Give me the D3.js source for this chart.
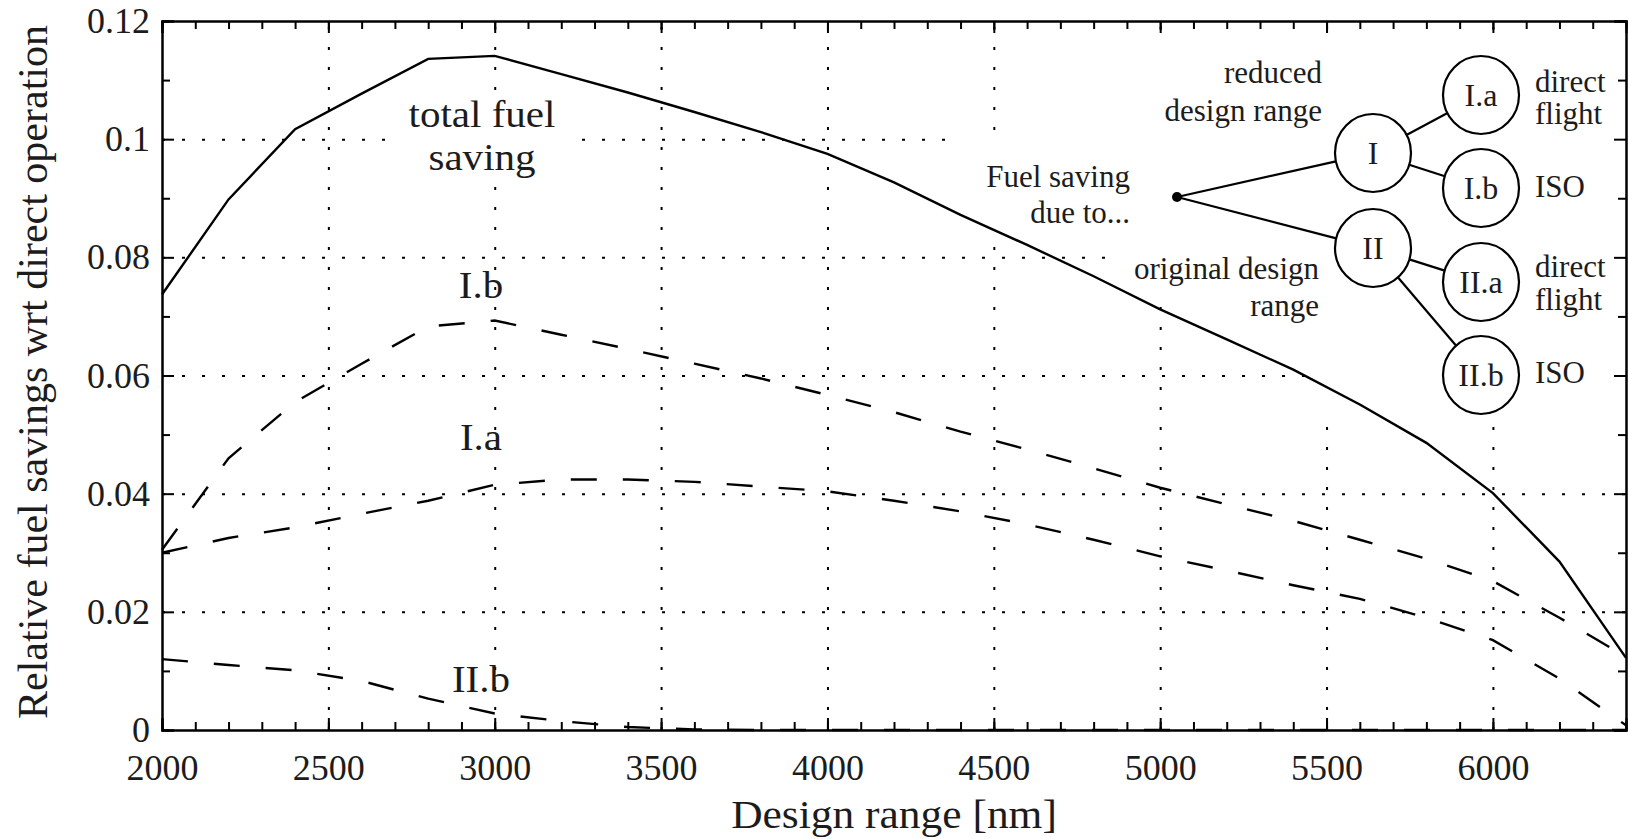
<!DOCTYPE html>
<html>
<head>
<meta charset="utf-8">
<title>Relative fuel savings</title>
<script src="https://cdn.jsdelivr.net/npm/d3@7/dist/d3.min.js"></script>
<style>
	body { margin: 0; background: #fff; }
	svg text { font-family: "Liberation Serif", "Times New Roman", serif; fill: #1c1c1c; }
	.axis path, .axis line { stroke: #000; stroke-width: 2; }
	.grid line { stroke: #000; stroke-width: 2; stroke-dasharray: 3, 17; }
	.grid path { display: none; }
	.curve { fill: none; stroke: #000; stroke-width: 2.4; }
	.curve-dashed { stroke-dasharray: 26, 26; }
	.tree line, .tree ellipse { stroke: #000; stroke-width: 2.2; fill: #fff; }
</style>
</head>
<body>
<div id="chart-area"></div>
<script>

// Design range [nm], one point every 200 nm
let designRange = [2000, 2200, 2400, 2600, 2800, 3000, 3200, 3400, 3600, 3800, 4000, 4200,
	4400, 4600, 4800, 5000, 5200, 5400, 5600, 5800, 6000, 6200, 6400];

// Relative fuel savings wrt direct operation
let totalSaving = [0.0737, 0.0898, 0.1017, 0.1077, 0.1136, 0.1141, 0.1110, 0.1079, 0.1046, 0.1012, 0.0975, 0.0927,
	0.0872, 0.0821, 0.0768, 0.0712, 0.0661, 0.0610, 0.0551, 0.0486, 0.0401, 0.0285, 0.0122];
let savingIa = [0.0300, 0.0325, 0.0343, 0.0366, 0.0388, 0.0415, 0.0424, 0.0424, 0.0420, 0.0412, 0.0404, 0.0388,
	0.0370, 0.0348, 0.0322, 0.0294, 0.0270, 0.0245, 0.0222, 0.0190, 0.0152, 0.0087, 0.0008];
let savingIb = [0.0305, 0.0460, 0.0555, 0.0620, 0.0683, 0.0693, 0.0669, 0.0645, 0.0620, 0.0595, 0.0567, 0.0538,
	0.0505, 0.0475, 0.0443, 0.0410, 0.0382, 0.0354, 0.0322, 0.0290, 0.0252, 0.0190, 0.0124];
let savingIIb = [0.0120, 0.0110, 0.0101, 0.0083, 0.0053, 0.0028, 0.0015, 0.0005, 0.0001, 0, 0, 0,
	0, 0, 0, 0, 0, 0, 0, 0, 0, 0, 0];

// Tick values
let xTicks = [2000, 2500, 3000, 3500, 4000, 4500, 5000, 5500, 6000];
let xMinorTicks = d3.range(2100, 6400, 100);
let yTicks = [0, 0.02, 0.04, 0.06, 0.08, 0.1, 0.12];
let yMinorTicks = [0.01, 0.03, 0.05, 0.07, 0.09, 0.11];
let yTickLabels = ["0", "0.02", "0.04", "0.06", "0.08", "0.1", "0.12"];


class FuelSavingVis {

	constructor(_parentElement) {
		this.parentElement = _parentElement;
		this.initVis();
	}

	initVis() {
		let vis = this;

		vis.margin = { top: 21, right: 3, bottom: 109, left: 162 };
		vis.width = 1629 - vis.margin.left - vis.margin.right;
		vis.height = 839 - vis.margin.top - vis.margin.bottom;

		vis.svg = d3.select("#" + vis.parentElement).append("svg")
			.attr("width", 1629)
			.attr("height", 839);

		vis.chartArea = vis.svg.append("g")
			.attr("transform", "translate(" + vis.margin.left + "," + vis.margin.top + ")");

		// Scales
		vis.x = d3.scaleLinear().domain([2000, 6400]).range([0, vis.width]);
		vis.y = d3.scaleLinear().domain([0, 0.12]).range([vis.height, 0]);

		// Dotted grid
		vis.chartArea.append("g")
			.attr("class", "grid")
			.attr("transform", "translate(0," + vis.height + ")")
			.call(d3.axisBottom(vis.x).tickValues(xTicks.slice(1)).tickSize(-vis.height).tickFormat(""));

		vis.chartArea.append("g")
			.attr("class", "grid")
			.call(d3.axisLeft(vis.y).tickValues(yTicks.slice(1, -1)).tickSize(-vis.width).tickFormat(""));

		// White backgrounds of the text labels (they hide the grid)
		let boxes = [
			[226, 74, 194, 86],     // total fuel saving
			[938, 17, 370, 97],     // reduced design range
			[788, 114, 520, 110],   // Fuel saving due to...
			[946, 224, 362, 48],    // original design range
			[1147, 17, 317, 375]    // circles
		];
		vis.chartArea.selectAll(".label-box")
			.data(boxes)
			.enter().append("rect")
			.attr("class", "label-box")
			.attr("x", d => d[0])
			.attr("y", d => d[1])
			.attr("width", d => d[2])
			.attr("height", d => d[3])
			.attr("fill", "#fff");

		vis.line = d3.line()
			.x((d, i) => vis.x(designRange[i]))
			.y(d => vis.y(d));

		// Curves
		vis.chartArea.append("path")
			.datum(totalSaving)
			.attr("class", "curve")
			.attr("d", vis.line);

		[savingIb, savingIa, savingIIb].forEach(series => {
			vis.chartArea.append("path")
				.datum(series)
				.attr("class", "curve curve-dashed")
				.attr("d", vis.line);
		});

		// Curve labels
		let labels = [
			{ text: "total fuel", x: 320, y: 106, size: 38 },
			{ text: "saving", x: 320, y: 149, size: 38 },
			{ text: "I.b", x: 319, y: 277, size: 38 },
			{ text: "I.a", x: 319, y: 429, size: 38 },
			{ text: "II.b", x: 319, y: 671, size: 38 }
		];
		vis.chartArea.selectAll(".curve-label")
			.data(labels)
			.enter().append("text")
			.attr("class", "curve-label")
			.attr("text-anchor", "middle")
			.attr("transform", d => "translate(" + d.x + "," + d.y + ") scale(1.08,1)")
			.style("font-size", d => d.size + "px")
			.text(d => d.text);

		vis.drawTree();

		// Axes: inward ticks on all four sides
		let axes = [
			{ axis: d3.axisBottom(vis.x), pos: [0, vis.height], labels: true },
			{ axis: d3.axisTop(vis.x), pos: [0, 0], labels: false },
			{ axis: d3.axisLeft(vis.y), pos: [0, 0], labels: true },
			{ axis: d3.axisRight(vis.y), pos: [vis.width, 0], labels: false }
		];
		axes.forEach((a, i) => {
			let isX = i < 2;
			let minor = a.axis.scale().copy();
			let gMinor = vis.chartArea.append("g")
				.attr("class", "axis")
				.attr("transform", "translate(" + a.pos[0] + "," + a.pos[1] + ")");
			let minorAxis = (i === 0 ? d3.axisBottom : i === 1 ? d3.axisTop : i === 2 ? d3.axisLeft : d3.axisRight)(minor)
				.tickValues(isX ? xMinorTicks : yMinorTicks)
				.tickSize(-8)
				.tickFormat("");
			gMinor.call(minorAxis);

			a.axis.tickValues(isX ? xTicks : yTicks)
				.tickSize(-12)
				.tickPadding(isX ? 24 : 12)
				.tickFormat(a.labels ? (isX ? d3.format("d") : (d => yTickLabels[yTicks.indexOf(d)])) : "");

			vis.chartArea.append("g")
				.attr("class", "axis")
				.attr("transform", "translate(" + a.pos[0] + "," + a.pos[1] + ")")
				.call(a.axis)
				.selectAll("text")
				.style("font-size", "36px")
				.attr("fill", "#1c1c1c");
		});

		// Axis titles
		vis.svg.append("text")
			.attr("text-anchor", "middle")
			.attr("transform", "translate(894,828) scale(1.06,1)")
			.style("font-size", "41px")
			.text("Design range [nm]");

		vis.svg.append("text")
			.attr("text-anchor", "middle")
			.attr("transform", "translate(47,372) rotate(-90)")
			.style("font-size", "42px")
			.text("Relative fuel savings wrt direct operation");
	}

	/*
	 * Tree diagram explaining the saving components
	 */
	drawTree() {
		let vis = this;
		let tree = vis.svg.append("g").attr("class", "tree");

		let root = { x: 1177, y: 197 };
		let nodes = [
			{ id: "I", x: 1373, y: 153 },
			{ id: "II", x: 1373, y: 248 },
			{ id: "I.a", x: 1481, y: 95, parent: "I" },
			{ id: "I.b", x: 1481, y: 188, parent: "I" },
			{ id: "II.a", x: 1481, y: 282, parent: "II" },
			{ id: "II.b", x: 1481, y: 375, parent: "II" }
		];
		let r = 38;

		// edge from a to b, cut at the circle borders
		function edge(a, b, ra, rb) {
			let dx = b.x - a.x, dy = b.y - a.y, len = Math.sqrt(dx * dx + dy * dy);
			tree.append("line")
				.attr("x1", a.x + dx / len * ra).attr("y1", a.y + dy / len * ra)
				.attr("x2", b.x - dx / len * rb).attr("y2", b.y - dy / len * rb);
		}

		nodes.forEach(n => {
			if (n.parent) edge(nodes.find(p => p.id === n.parent), n, r, r);
			else edge(root, n, 0, r);
		});

		tree.append("circle")
			.attr("cx", root.x).attr("cy", root.y).attr("r", 5)
			.attr("fill", "#000");

		tree.selectAll("ellipse")
			.data(nodes)
			.enter().append("ellipse")
			.attr("cx", d => d.x).attr("cy", d => d.y)
			.attr("rx", r).attr("ry", r + 1);

		tree.selectAll(".node-label")
			.data(nodes)
			.enter().append("text")
			.attr("class", "node-label")
			.attr("text-anchor", "middle")
			.attr("transform", d => "translate(" + d.x + "," + (d.y + 11) + ")")
			.style("font-size", "32px")
			.text(d => d.id);

		let notes = [
			{ text: "reduced", x: 1322, y: 83, anchor: "end" },
			{ text: "design range", x: 1322, y: 121, anchor: "end" },
			{ text: "Fuel saving", x: 1130, y: 187, anchor: "end" },
			{ text: "due to...", x: 1130, y: 223, anchor: "end" },
			{ text: "original design", x: 1319, y: 279, anchor: "end" },
			{ text: "range", x: 1319, y: 316, anchor: "end" },
			{ text: "direct", x: 1535, y: 92, anchor: "start" },
			{ text: "flight", x: 1535, y: 124, anchor: "start" },
			{ text: "ISO", x: 1535, y: 197, anchor: "start" },
			{ text: "direct", x: 1535, y: 277, anchor: "start" },
			{ text: "flight", x: 1535, y: 310, anchor: "start" },
			{ text: "ISO", x: 1535, y: 383, anchor: "start" }
		];
		tree.selectAll(".note")
			.data(notes)
			.enter().append("text")
			.attr("class", "note")
			.attr("text-anchor", d => d.anchor)
			.attr("transform", d => "translate(" + d.x + "," + d.y + ")")
			.style("font-size", "31px")
			.text(d => d.text);
	}
}

new FuelSavingVis("chart-area");

</script>
</body>
</html>
